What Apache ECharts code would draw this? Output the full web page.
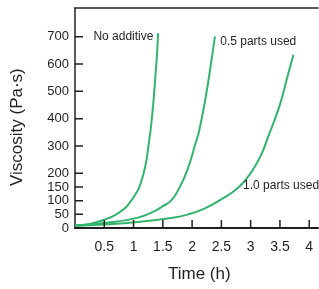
<!DOCTYPE html>
<html>
<head>
<meta charset="utf-8">
<script src="https://cdn.jsdelivr.net/npm/echarts@6/dist/echarts.min.js"></script>
<style>
  html, body { margin: 0; padding: 0; background: #fff; }
  #chart { width: 319px; height: 289px; }
</style>
</head>
<body>
<div id="chart"></div>
<script>
// data (time h, viscosity Pa·s)
var noAdditiveT = [0, 0.25, 0.5, 0.7, 0.85, 0.95, 1.05, 1.1, 1.2, 1.26, 1.3, 1.35, 1.4, 1.42];
var noAdditiveV = [8, 15, 30, 49, 72, 97, 130, 150, 225, 310, 375, 490, 635, 713];

var halfPartT = [0, 0.5, 1.06, 1.35, 1.5, 1.64, 1.78, 1.92, 2.06, 2.12, 2.23, 2.32, 2.39];
var halfPartV = [10, 18, 37, 61, 80, 100, 146, 213, 311, 355, 476, 598, 701];

var onePartT = [0, 0.5, 1.06, 1.64, 1.92, 2.21, 2.49, 2.78, 3.0, 3.18, 3.29, 3.49, 3.63, 3.73];
var onePartV = [8, 13, 22, 37, 49, 71, 104, 146, 201, 268, 329, 445, 555, 634];

var yTicks = [0, 50, 100, 150, 200, 300, 400, 500, 600, 700];
var xTicks = [0.5, 1, 1.5, 2, 2.5, 3, 3.5, 4];

var seriesNames = ['No additive', '0.5 parts used', '1.0 parts used'];
// where each curve's label sits, in data units
var labelAt = [[1.34, 700], [2.48, 680], [2.87, 154]];
var labelAlign = ['right', 'left', 'left'];

function pairs(t, v) {
    var out = [];
    for (var i = 0; i < t.length; i++) out.push([t[i], v[i]]);
    return out;
}

var ink = '#231f20';
var green = '#33b46e';
var font = '"Liberation Sans", Arial, sans-serif';
var xMax = 4.15, yMax = 805;
var gridBox = {left: 75, top: 8, right: 1, bottom: 61};
var tickLen = 8; // px

// tick length in data units, so ticks go through the axes' scales
var plotW = 319 - gridBox.left - gridBox.right;
var plotH = 289 - gridBox.top - gridBox.bottom;
var tickDx = tickLen * xMax / plotW;
var tickDy = tickLen * yMax / plotH;

var curves = [pairs(noAdditiveT, noAdditiveV), pairs(halfPartT, halfPartV), pairs(onePartT, onePartV)];

var chart = echarts.init(document.getElementById('chart'), null, {renderer: 'canvas'});

var series = curves.map(function (d, i) {
    return {
        name: seriesNames[i],
        type: 'line',
        data: d,
        smooth: 0.5,
        symbol: 'none',
        z: 3,
        lineStyle: {color: green, width: 2},
        markPoint: {
            symbol: 'circle',
            symbolSize: 0,
            data: [{
                coord: labelAt[i],
                label: {
                    show: true,
                    formatter: seriesNames[i],
                    position: 'inside',
                    align: labelAlign[i],
                    verticalAlign: 'middle',
                    color: ink,
                    fontFamily: font,
                    fontSize: 12
                }
            }]
        }
    };
});

// inside tick marks, one short line each
function tick(a, b) {
    return {
        type: 'line',
        data: [a, b],
        symbol: 'none',
        silent: true,
        z: 4,
        lineStyle: {color: ink, width: 1.5},
        emphasis: {disabled: true}
    };
}
yTicks.forEach(function (v) {
    series.push(tick([0, v], [tickDx, v]));
});
xTicks.forEach(function (t) {
    series.push(tick([t, 0], [t, tickDy]));
});

var labelStyle = {color: ink, fontFamily: font};

var option = {
    animation: false,
    grid: gridBox,
    xAxis: [{
        type: 'value',
        min: 0,
        max: xMax,
        axisLine: {show: true, onZero: false, lineStyle: {color: ink, width: 2}},
        axisTick: {show: false},
        axisLabel: Object.assign({customValues: xTicks, fontSize: 14, margin: 12}, labelStyle),
        splitLine: {show: false}
    }, {
        type: 'value',
        position: 'top',
        min: 0,
        max: xMax,
        axisLine: {show: true, onZero: false, lineStyle: {color: ink, width: 1.5}},
        axisTick: {show: false},
        axisLabel: {show: false},
        splitLine: {show: false}
    }],
    yAxis: {
        type: 'value',
        min: 0,
        max: yMax,
        axisLine: {show: true, onZero: false, lineStyle: {color: ink, width: 1.5}},
        axisTick: {show: false},
        axisLabel: Object.assign({
            customValues: yTicks, showMinLabel: true, hideOverlap: false,
            fontSize: 13, margin: 6
        }, labelStyle),
        splitLine: {show: false}
    },
    graphic: [{
        type: 'text',
        left: 168,
        top: 266,
        style: {text: 'Time (h)', fill: ink, font: '17px ' + font}
    }, {
        type: 'text',
        x: 9,
        y: 186,
        rotation: Math.PI / 2,
        style: {text: 'Viscosity (Pa·s)', fill: ink, font: '17px ' + font}
    }],
    series: series
};

chart.setOption(option);
</script>
</body>
</html>
